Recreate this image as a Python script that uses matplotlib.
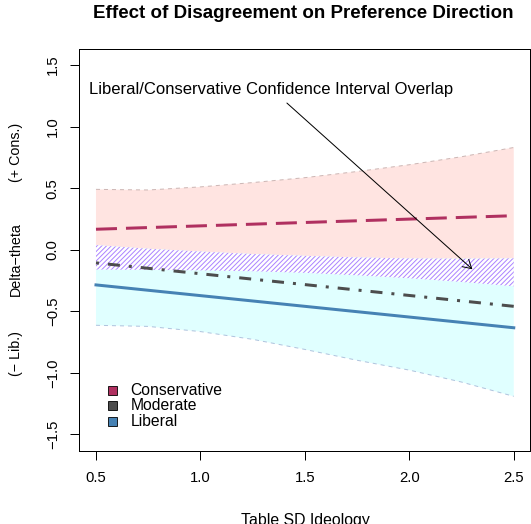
import matplotlib
matplotlib.use('Agg')
import matplotlib.pyplot as plt
from matplotlib.patches import Rectangle

plt.rcParams['font.family'] = ['Liberation Sans', 'DejaVu Sans']
plt.rcParams['hatch.linewidth'] = 0.7
plt.rcParams['hatch.color'] = '#AB82FF'

# confidence bands, evaluated along table SD ideology
sd = [0.5, 0.75, 1.0, 1.25, 1.5, 1.75, 2.0, 2.25, 2.5]
cons_hi = [0.49, 0.485, 0.51, 0.545, 0.585, 0.635, 0.69, 0.755, 0.83]
cons_lo = [-0.161, -0.164, -0.168, -0.175, -0.188, -0.208, -0.232, -0.262, -0.297]
lib_hi = [0.037, 0.008, -0.015, -0.035, -0.050, -0.063, -0.071, -0.073, -0.070]
lib_lo = [-0.614, -0.623, -0.665, -0.728, -0.810, -0.898, -0.978, -1.075, -1.191]

# fitted lines
line_sd = [0.5, 2.5]
cons_fit = [0.166, 0.276]
mod_fit = [-0.107, -0.46]
lib_fit = [-0.286, -0.634]

groups = ['Conservative', 'Moderate', 'Liberal']
colors = ['#B03060', '#4D4D4D', '#4682B4']

fig = plt.figure(figsize=(5.31, 5.24), dpi=100)
ax = fig.add_axes([0.1493, 0.1393, 0.8497, 0.7672])

ax.fill_between(sd, cons_lo, cons_hi, facecolor='#FFE4E1', lw=0)
ax.fill_between(sd, lib_lo, lib_hi, facecolor='#E0FFFF', lw=0)
ax.fill_between(sd, cons_lo, lib_hi, facecolor='white', edgecolor='#AB82FF',
                hatch='///////', lw=0)
ax.plot(sd, cons_hi, color='#CDB7B5', lw=0.72, dashes=(4, 4))
ax.plot(sd, lib_lo, color='#B0C4DE', lw=0.72, dashes=(4, 4))

ax.plot(line_sd, cons_fit, color=colors[0], lw=2.16, dashes=(7, 3))
ax.plot(line_sd, mod_fit, color=colors[1], lw=2.16, dashes=(1, 3, 4, 3))
ax.plot(line_sd, lib_fit, color=colors[2], lw=2.16)

ax.annotate('', xy=(2.302, -0.159), xytext=(1.414, 1.191),
            arrowprops=dict(arrowstyle='->,head_length=0.6,head_width=0.35',
                            lw=0.72, color='black', shrinkA=0, shrinkB=0))
ax.text(1.337, 1.305, 'Liberal/Conservative Confidence Interval Overlap',
        ha='center', va='center', fontsize=12)

# legend boxes
rows_y = [0.1517, 0.1132, 0.0746]
for name, col, yy in zip(groups, colors, rows_y):
    ax.add_patch(Rectangle((0.0647, yy - 0.0112), 0.02, 0.0224, facecolor=col,
                           edgecolor='black', lw=0.6, transform=ax.transAxes))
    ax.text(0.113, yy, name, transform=ax.transAxes, ha='left', va='center',
            fontsize=11.3)

ax.set_xlim(0.42, 2.58)
ax.set_ylim(-1.635, 1.63)
ax.set_xticks([0.5, 1.0, 1.5, 2.0, 2.5])
ax.set_yticks([-1.5, -1.0, -0.5, 0.0, 0.5, 1.0, 1.5])
for s in ax.spines.values():
    s.set_linewidth(0.72)
ax.tick_params(direction='out', length=6.2, width=0.72, labelsize=10.7)
ax.tick_params(axis='x', pad=8.5)
ax.tick_params(axis='y', pad=7.8, labelrotation=90)
plt.setp(ax.get_yticklabels(), va='center')

fig.text(303 / 531, (524 - 18.4) / 524, 'Effect of Disagreement on Preference Direction',
         ha='center', va='baseline', fontsize=13.5, fontweight='bold')
fig.text(305 / 531, -0.002, 'Table SD Ideology', ha='center', va='baseline', fontsize=11.4)
for txt, yp in [('(+ Cons.)', 152.5), ('Delta\u2212theta', 259), ('(\u2212 Lib.)', 354)]:
    fig.text(16 / 531, (524 - yp) / 524, txt, rotation=90, ha='center', va='center',
             fontsize=10.3)

fig.savefig('out.png', dpi=100)
